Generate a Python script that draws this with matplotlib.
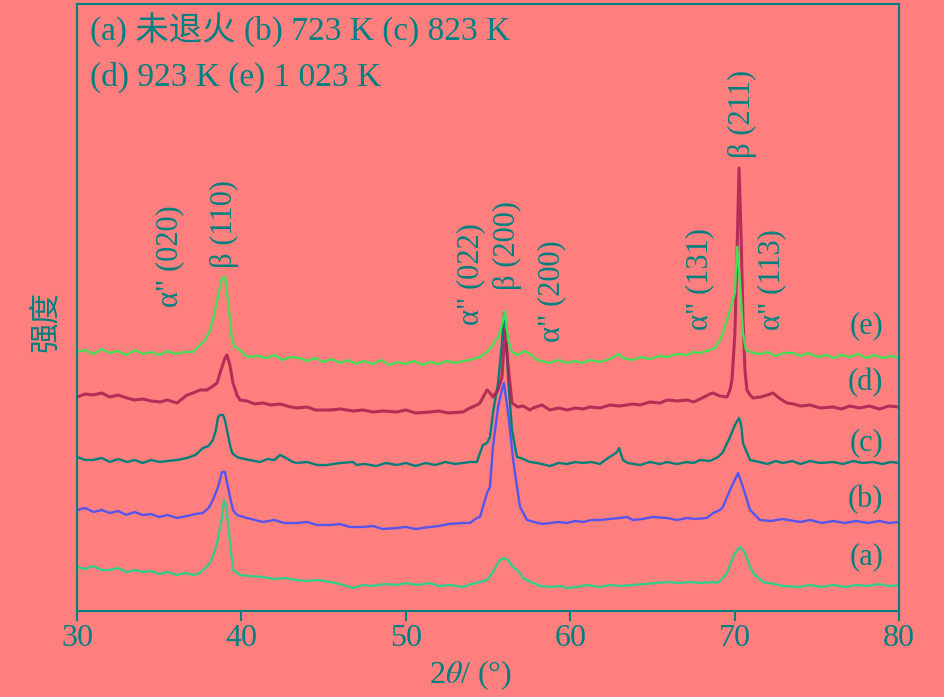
import matplotlib.pyplot as plt
import numpy as np

plt.rcParams['font.family'] = ['Liberation Serif', 'Noto Sans CJK SC', 'DejaVu Sans']
plt.rcParams['mathtext.fontset'] = 'stix'

# (2theta, intensity a.u.), curves offset as in the figure
curve_a = [(30.0, 44), (30.5, 42), (31.0, 45), (31.5, 41), (32.0, 41), (32.5, 43), (33.0, 39), (33.5, 41),
           (34.0, 39), (34.5, 40), (35.0, 37), (35.5, 39), (36.08, 36), (36.6, 38), (37.1, 36), (37.48, 38),
           (37.8, 43), (38.09, 48), (38.3, 56), (38.52, 68), (38.82, 94), (38.94, 111), (39.06, 106),
           (39.18, 88), (39.31, 68), (39.49, 41), (39.91, 36), (40.5, 35), (41.31, 34), (42.0, 32),
           (42.6, 33), (43.38, 31), (44.0, 30), (44.7, 31), (45.39, 29), (46.0, 27), (46.79, 23),
           (47.4, 26), (48.0, 25), (48.7, 27), (49.46, 26), (50.0, 28), (50.7, 26), (51.47, 28), (52.0, 25),
           (52.7, 26), (53.48, 24), (54.0, 27), (54.5, 29), (54.94, 31), (55.3, 39), (55.55, 46), (55.73, 51),
           (56.0, 53), (56.22, 51), (56.52, 44), (56.9, 39), (57.13, 33), (57.6, 29), (58.2, 25), (58.77, 24),
           (59.4, 25), (59.81, 23), (60.4, 24), (61.0, 26), (61.81, 24), (62.4, 26), (63.0, 25), (63.82, 26),
           (64.5, 27), (65.2, 28), (65.89, 29), (66.6, 28), (67.3, 29), (68.0, 28), (68.6, 29), (68.93, 28),
           (69.3, 33), (69.54, 38), (69.9, 54), (70.15, 61), (70.33, 64), (70.51, 61), (70.63, 58), (70.9, 46),
           (71.12, 38), (71.73, 29), (72.4, 27), (73.0, 25), (73.98, 24), (74.6, 26), (75.3, 24), (76.0, 26),
           (76.7, 24), (77.4, 26), (78.1, 25), (78.8, 27), (79.4, 25), (80.0, 26)]

curve_b = [(30.0, 101), (30.5, 103), (31.0, 99), (31.5, 101), (32.0, 98), (32.5, 100), (33.0, 96), (33.5, 99),
           (34.0, 96), (34.5, 97), (35.0, 94), (35.5, 96), (36.08, 93), (36.7, 95), (37.2, 97), (37.66, 98),
           (38.0, 103), (38.27, 111), (38.58, 124), (38.82, 139), (39.0, 139), (39.18, 124), (39.31, 114),
           (39.49, 101), (39.73, 96), (40.34, 93), (41.31, 89), (42.0, 91), (42.6, 88), (43.38, 88), (44.0, 89),
           (44.6, 86), (45.39, 86), (46.0, 87), (46.6, 84), (47.4, 84), (48.0, 85), (48.6, 82), (49.46, 83),
           (50.0, 84), (50.6, 82), (51.47, 84), (52.0, 85), (52.6, 87), (53.48, 88), (53.9, 88), (54.33, 93),
           (54.51, 94), (54.94, 118), (55.12, 124), (55.3, 164), (55.61, 204), (55.85, 221), (55.97, 228),
           (56.22, 198), (56.52, 153), (56.64, 138), (56.95, 104), (57.37, 91), (57.8, 89), (58.3, 87),
           (58.77, 88), (59.3, 89), (59.81, 88), (60.3, 90), (60.78, 89), (61.3, 91), (61.81, 91), (62.4, 92),
           (63.0, 93), (63.45, 94), (63.82, 91), (64.4, 92), (65.0, 94), (65.89, 93), (66.5, 91), (67.1, 93),
           (67.6, 92), (68.32, 93), (68.69, 98), (69.11, 101), (69.29, 104), (69.72, 121), (70.21, 138),
           (70.51, 124), (70.94, 101), (71.54, 91), (72.2, 90), (72.9, 92), (73.98, 89), (74.6, 91), (75.3, 88),
           (76.0, 90), (76.7, 88), (77.4, 90), (78.1, 88), (78.8, 90), (79.4, 88), (80.0, 89)]

curve_c = [(30.0, 154), (30.5, 151), (30.97, 151), (31.5, 153), (32.0, 149), (32.5, 152), (33.04, 149),
           (33.5, 151), (34.0, 148), (34.5, 151), (35.05, 149), (35.5, 150), (36.08, 151), (36.69, 153),
           (37.2, 156), (37.66, 163), (38.0, 165), (38.27, 171), (38.45, 181), (38.58, 194), (38.7, 196),
           (38.88, 196), (39.0, 191), (39.12, 181), (39.31, 166), (39.43, 158), (39.73, 154), (39.91, 153),
           (40.5, 151), (41.13, 149), (41.6, 152), (42.0, 151), (42.35, 156), (42.6, 154), (43.14, 149),
           (43.38, 148), (44.0, 149), (44.6, 146), (45.21, 146), (46.0, 148), (46.79, 149), (47.0, 146),
           (47.5, 147), (48.2, 145), (48.8, 148), (49.46, 146), (50.0, 148), (50.6, 145), (51.2, 148),
           (51.8, 146), (52.4, 149), (53.0, 147), (53.48, 148), (53.9, 149), (54.33, 149), (54.51, 158),
           (54.7, 166), (54.94, 168), (55.12, 174), (55.3, 198), (55.61, 228), (55.85, 268), (55.97, 298),
           (56.1, 281), (56.22, 234), (56.46, 181), (56.76, 154), (57.0, 153), (57.55, 149), (58.0, 148),
           (58.77, 145), (59.3, 148), (59.81, 147), (60.3, 149), (60.78, 148), (61.3, 149), (61.81, 147),
           (62.3, 153), (62.6, 156), (62.85, 159), (62.97, 163), (63.21, 151), (63.5, 148), (64.25, 146),
           (64.85, 149), (65.46, 147), (65.89, 149), (66.5, 147), (67.1, 149), (67.5, 148), (67.9, 151),
           (68.5, 150), (69.0, 154), (69.29, 159), (69.72, 174), (70.02, 186), (70.27, 193), (70.4, 186),
           (70.51, 168), (70.94, 151), (71.5, 149), (72.0, 147), (72.5, 150), (72.94, 148), (73.5, 150),
           (74.0, 147), (74.6, 150), (75.2, 148), (75.99, 149), (76.6, 147), (77.2, 150), (77.8, 148),
           (78.4, 149), (79.0, 147), (79.5, 149), (80.0, 148)]

curve_d = [(30.0, 214), (30.5, 217), (30.97, 216), (31.5, 218), (32.0, 214), (32.5, 216), (33.04, 213),
           (33.5, 211), (34.0, 212), (34.5, 210), (35.05, 209), (35.5, 211), (36.08, 208), (36.69, 216),
           (37.06, 218), (37.48, 221), (37.91, 221), (38.27, 225), (38.52, 228), (38.7, 238), (39.0, 253),
           (39.12, 256), (39.3, 246), (39.49, 228), (39.73, 216), (39.91, 211), (40.34, 210), (40.8, 207),
           (41.31, 208), (41.8, 206), (42.35, 207), (43.0, 204), (43.38, 203), (44.0, 204), (44.5, 201),
           (45.39, 201), (46.0, 202), (46.8, 200), (47.4, 201), (48.0, 199), (48.6, 200), (49.46, 199),
           (50.0, 201), (50.6, 198), (51.47, 199), (52.0, 200), (52.6, 198), (53.48, 199), (53.9, 203),
           (54.33, 206), (54.51, 208), (54.94, 221), (55.12, 218), (55.3, 214), (55.61, 221), (55.85, 234),
           (56.03, 281), (56.22, 246), (56.46, 208), (56.8, 204), (57.13, 205), (57.55, 201), (57.74, 203),
           (58.28, 206), (58.77, 201), (59.3, 203), (59.81, 201), (60.3, 203), (60.78, 202), (61.2, 204),
           (61.81, 203), (62.42, 206), (63.0, 205), (63.82, 207), (64.25, 206), (64.85, 209), (65.46, 208),
           (65.89, 211), (66.5, 210), (67.1, 211), (67.5, 209), (67.9, 212), (68.5, 217), (68.69, 218),
           (69.11, 215), (69.54, 214), (69.72, 221), (69.84, 231), (70.02, 278), (70.15, 361), (70.27, 443),
           (70.4, 371), (70.51, 294), (70.63, 241), (70.75, 221), (70.94, 216), (71.12, 213), (71.6, 214),
           (72.0, 216), (72.34, 218), (72.7, 213), (73.19, 208), (73.6, 207), (74.0, 205), (74.6, 206),
           (75.2, 203), (75.99, 204), (76.5, 202), (77.0, 205), (77.6, 203), (78.2, 205), (78.8, 202),
           (79.4, 205), (80.0, 204)]

curve_e = [(30.0, 259), (30.5, 261), (31.0, 257), (31.5, 262), (32.0, 258), (32.5, 260), (33.0, 256),
           (33.5, 261), (34.0, 257), (34.5, 259), (35.0, 256), (35.5, 260), (36.0, 257), (36.5, 259),
           (37.06, 259), (37.48, 266), (37.8, 271), (38.09, 281), (38.3, 293), (38.52, 311), (38.82, 333),
           (39.0, 334), (39.18, 311), (39.43, 271), (39.6, 264), (39.91, 261), (40.2, 256), (40.52, 254),
           (41.0, 255), (41.56, 253), (42.0, 256), (42.5, 251), (43.0, 254), (43.56, 253), (44.0, 250),
           (44.5, 253), (45.0, 249), (45.5, 252), (46.0, 248), (46.5, 251), (47.0, 247), (47.4, 250),
           (48.0, 247), (48.5, 251), (49.0, 246), (49.5, 249), (50.0, 247), (50.5, 250), (51.0, 246),
           (51.5, 249), (52.0, 247), (52.5, 250), (53.0, 248), (53.48, 250), (53.9, 251), (54.51, 254),
           (54.94, 259), (55.3, 266), (55.43, 271), (55.61, 273), (55.85, 286), (56.03, 300), (56.22, 271),
           (56.46, 259), (56.8, 256), (57.2, 260), (57.55, 257), (58.0, 251), (58.77, 248), (59.3, 251),
           (59.81, 248), (60.3, 250), (60.78, 248), (61.2, 251), (61.81, 249), (62.4, 252), (62.97, 257),
           (63.2, 253), (63.82, 251), (64.3, 254), (64.85, 252), (65.4, 255), (65.89, 254), (66.5, 257),
           (67.1, 256), (67.5, 259), (67.9, 258), (68.5, 261), (68.8, 263), (69.11, 271), (69.3, 279),
           (69.54, 291), (69.84, 308), (70.02, 318), (70.15, 364), (70.33, 328), (70.51, 278), (70.69, 261),
           (70.94, 259), (71.5, 257), (72.0, 259), (72.5, 255), (73.0, 258), (73.55, 258), (74.0, 255),
           (74.5, 258), (75.0, 254), (75.62, 256), (76.0, 253), (76.5, 256), (77.0, 254), (77.5, 257),
           (78.0, 253), (78.5, 256), (79.0, 253), (79.5, 255), (80.0, 253)]

curve_names = ['(a)', '(b)', '(c)', '(d)', '(e)']
curve_label_y = [54, 111, 168, 228, 285]

peak_names = ['α" (020)', 'β (110)', 'α" (022)', 'β (200)', 'α" (200)', 'α" (131)', 'β (211)', 'α" (113)']
peak_x = [35.66, 38.94, 53.97, 56.16, 58.89, 67.90, 70.45, 72.27]
peak_y = [304, 343, 286, 321, 269, 281, 453, 281]

teal = '#008080'
bg = '#FF7F7F'

fig = plt.figure(figsize=(9.45, 6.97), dpi=100, facecolor=bg)
ax = fig.add_axes([77/945, 1 - 611/697, (899 - 77)/945, (611 - 4)/697])
ax.set_facecolor(bg)

styles = [
    (curve_a, '#33CC88', 1.7, 1.0),
    (curve_b, '#5555EE', 1.7, 1.0),
    (curve_c, '#007F7A', 1.7, 1.0),
    (curve_d, '#A82050', 2.2, 0.85),
    (curve_e, '#44DD55', 1.7, 1.0),
]
for data, col, lw, al in styles:
    x, y = np.array(data).T
    ax.plot(x, y, color=col, lw=lw, alpha=al)

for name, yy in zip(curve_names, curve_label_y):
    ax.text(79.03, yy, name, ha='right', va='center', fontsize=22, color=teal)

for name, xx, yy in zip(peak_names, peak_x, peak_y):
    ax.text(xx, yy, name, rotation=90, ha='center', va='bottom', fontsize=22, color=teal)

ax.set_xlim(30, 80)
ax.set_ylim(0, 607)
ax.set_xticks([30, 40, 50, 60, 70, 80])
ax.set_yticks([])
ax.tick_params(axis='x', direction='out', length=7, width=1.5, colors=teal, labelsize=23, pad=2)
for s in ax.spines.values():
    s.set_color(teal)
    s.set_linewidth(1.5)

fig.text(90/945, 1 - 30/697, '(a) 未退火 (b) 723 K (c) 823 K', ha='left', va='center', fontsize=24, color=teal)
fig.text(90/945, 1 - 77/697, '(d) 923 K (e) 1 023 K', ha='left', va='center', fontsize=24, color=teal)
fig.text(470/945, 1 - 675/697, r'2$\theta$/ (°)', ha='center', va='center', fontsize=23, color=teal)
fig.text(47/945, 1 - 322/697, '强度', rotation=90, ha='center', va='center', fontsize=22, color=teal)

fig.savefig('out.png', dpi=100, facecolor=bg)
